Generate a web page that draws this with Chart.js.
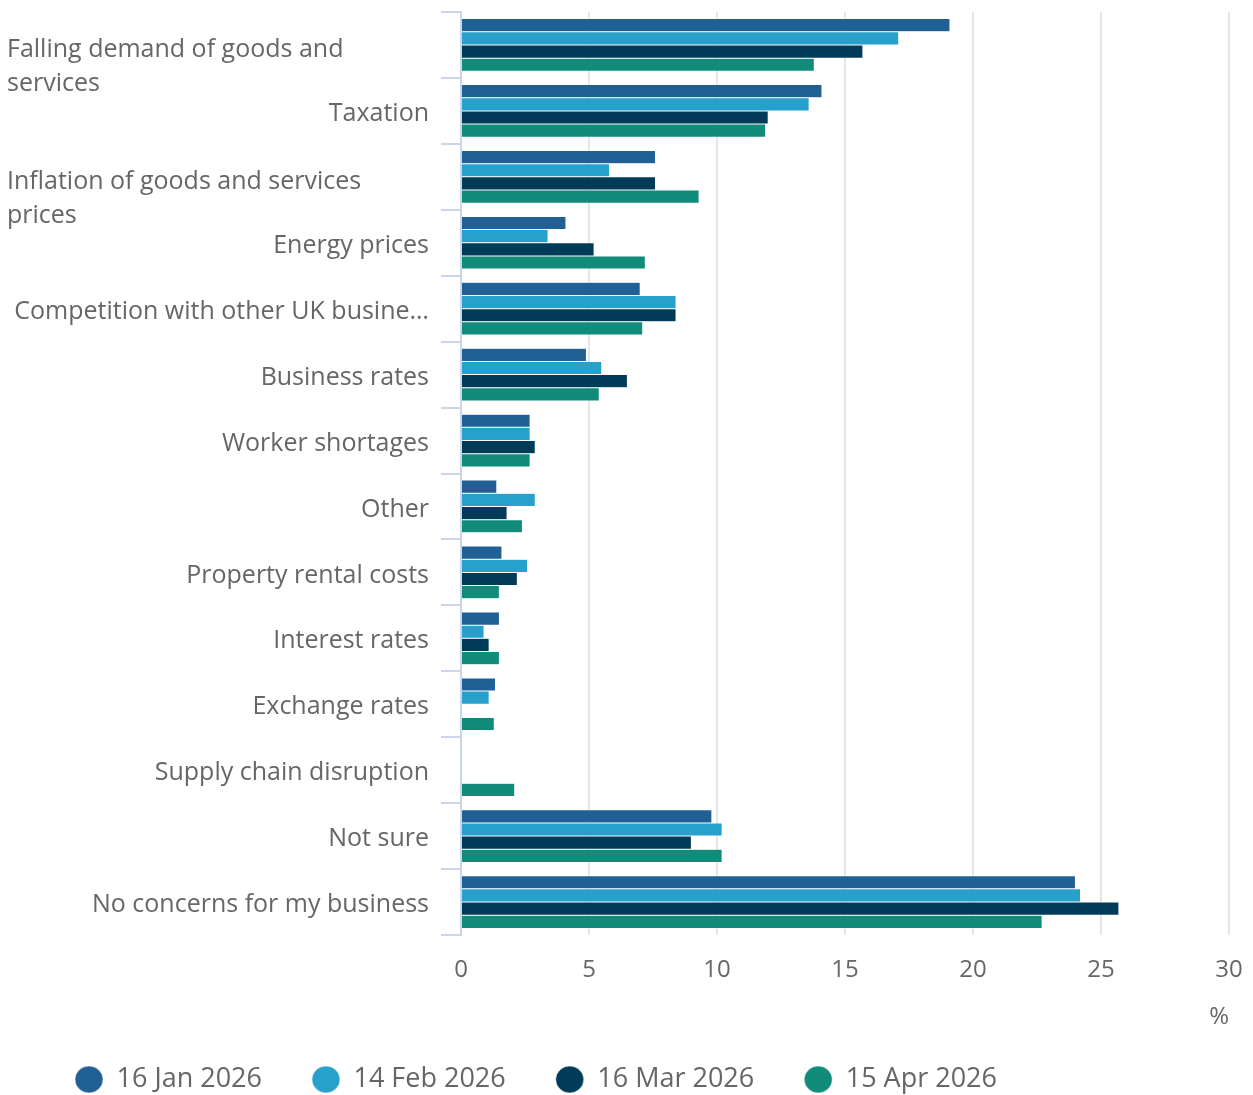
<!DOCTYPE html>
<html>
<head>
<meta charset="utf-8">
<script src="https://cdn.jsdelivr.net/npm/chart.js@4.4.1/dist/chart.umd.min.js"></script>
<style>
  body { margin: 0; background: #fff; }
  #wrap { width: 1253px; height: 1095px; position: relative; }
</style>
</head>
<body>
<div id="wrap"><canvas id="concernsChart"></canvas></div>
<script>
// Main business concerns - share of businesses (%)

// Category labels, already broken into the lines they show on
const categories = [
    ['Falling demand of goods and', 'services'],
    ['Taxation'],
    ['Inflation of goods and services', 'prices'],
    ['Energy prices'],
    ['Competition with other UK busine…'],
    ['Business rates'],
    ['Worker shortages'],
    ['Other'],
    ['Property rental costs'],
    ['Interest rates'],
    ['Exchange rates'],
    ['Supply chain disruption'],
    ['Not sure'],
    ['No concerns for my business']
];

const seriesNames = ['16 Jan 2026', '14 Feb 2026', '16 Mar 2026', '15 Apr 2026'];
const seriesColors = ['#206095', '#27a0cc', '#003c57', '#118c7b'];

const jan2026 = [19.1, 14.1, 7.6, 4.1, 7.0, 4.9, 2.7, 1.4, 1.6, 1.5, 1.35, null, 9.8, 24.0];
const feb2026 = [17.1, 13.6, 5.8, 3.4, 8.4, 5.5, 2.7, 2.9, 2.6, 0.9, 1.1, null, 10.2, 24.2];
const mar2026 = [15.7, 12.0, 7.6, 5.2, 8.4, 6.5, 2.9, 1.8, 2.2, 1.1, null, null, 9.0, 25.7];
const apr2026 = [13.8, 11.9, 9.3, 7.2, 7.1, 5.4, 2.7, 2.4, 1.5, 1.5, 1.3, 2.1, 10.2, 22.7];

const xTicks = [0, 5, 10, 15, 20, 25, 30];
const xUnit = '%';

const textColor = '#666666';
const fontFamily = '"Open Sans", sans-serif';

// Category labels: single lines right aligned to the ticks, wrapped ones left aligned
const categoryLabels = {
    id: 'categoryLabels',
    afterDraw(chart) {
        const ctx = chart.ctx;
        const yScale = chart.scales.y;
        ctx.save();
        ctx.font = '25px ' + fontFamily;
        ctx.fillStyle = textColor;
        ctx.textBaseline = 'middle';
        categories.forEach((lines, i) => {
            const center = yScale.getPixelForValue(i);
            if (lines.length === 1) {
                ctx.textAlign = 'right';
                ctx.fillText(lines[0], 429, center + 3);
                return;
            }
            ctx.textAlign = 'left';
            lines.forEach((line, j) => {
                ctx.fillText(line, 7, center + 5 + j * 34);
            });
        });
        ctx.restore();
    }
};

const datasets = [jan2026, feb2026, mar2026, apr2026].map((values, i) => ({
    label: seriesNames[i],
    data: values,
    backgroundColor: seriesColors[i],
    borderColor: '#ffffff',
    borderWidth: 0.5,
    categoryPercentage: 0.8,
    barPercentage: 1.0
}));

new Chart(document.getElementById('concernsChart'), {
    type: 'bar',
    data: {
        labels: categories.map(l => l.join(' ')),
        datasets: datasets
    },
    options: {
        indexAxis: 'y',
        responsive: true,
        maintainAspectRatio: false,
        animation: false,
        layout: {
            padding: { top: 12, right: 24, left: 25, bottom: -8 }
        },
        plugins: {
            tooltip: { enabled: false },
            legend: {
                position: 'bottom',
                align: 'start',
                labels: {
                    usePointStyle: true,
                    pointStyle: 'circle',
                    pointStyleWidth: 28,
                    boxHeight: 19,
                    padding: 50,
                    color: textColor,
                    font: { family: fontFamily, size: 27 }
                }
            }
        },
        scales: {
            x: {
                type: 'linear',
                position: 'bottom',
                min: 0,
                max: 30,
                afterBuildTicks: scale => {
                    scale.ticks = xTicks.map(v => ({ value: v }));
                },
                afterFit: scale => {
                    scale.height = 81;
                    scale.paddingRight = 0;
                },
                grid: {
                    color: '#e6e6e6',
                    lineWidth: 2,
                    drawTicks: false
                },
                border: { display: false },
                ticks: {
                    padding: 21,
                    color: textColor,
                    font: { family: fontFamily, size: 24 }
                },
                title: {
                    display: true,
                    text: xUnit,
                    align: 'end',
                    color: textColor,
                    font: { family: fontFamily, size: 24 },
                    padding: { top: 4, bottom: -16 }
                }
            },
            y: {
                type: 'category',
                offset: true,
                afterFit: scale => { scale.width = 436; },
                grid: {
                    offset: true,
                    drawOnChartArea: false,
                    drawTicks: true,
                    tickLength: 20,
                    color: '#ccd6eb',
                    lineWidth: 2
                },
                border: { display: true, color: '#ccd6eb', width: 2 },
                ticks: { display: false }
            }
        }
    },
    plugins: [categoryLabels]
});
</script>
</body>
</html>
